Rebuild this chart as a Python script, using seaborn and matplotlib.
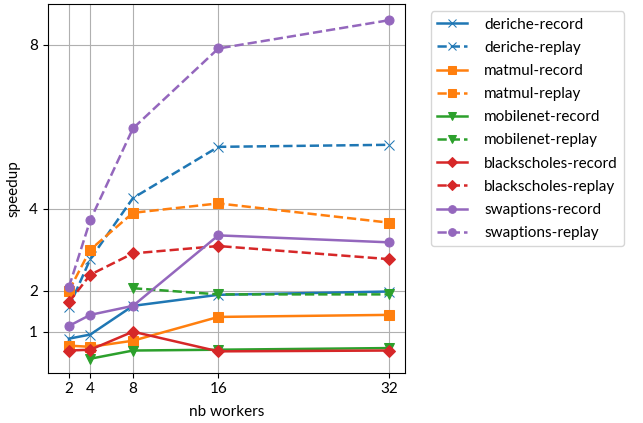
import numpy as np
import pandas as pd
import matplotlib
matplotlib.use("Agg")
import matplotlib.pyplot as plt
import seaborn as sns

# nb workers on x, speedup on y
workers = [2, 4, 8, 16, 32]
benchmarks = ['deriche', 'matmul', 'mobilenet', 'blackscholes', 'swaptions']
markers = {'deriche': 'x', 'matmul': 's', 'mobilenet': 'v', 'blackscholes': 'D', 'swaptions': 'o'}

deriche_record = [0.83, 0.93, 1.63, 1.90, 1.98]
deriche_replay = [1.60, 2.77, 4.26, 5.51, 5.56]
matmul_record = [0.66, 0.63, 0.78, 1.36, 1.41]
matmul_replay = [2.00, 3.00, 3.90, 4.13, 3.66]
mobilenet_record = [np.nan, 0.34, 0.54, 0.56, 0.60]
mobilenet_replay = [np.nan, np.nan, 2.06, 1.91, 1.91]
blackscholes_record = [0.54, 0.56, 1.00, 0.52, 0.54]
blackscholes_replay = [1.72, 2.39, 2.91, 3.09, 2.77]
swaptions_record = [1.14, 1.41, 1.63, 3.35, 3.18]
swaptions_replay = [2.09, 3.72, 5.96, 7.91, 8.60]

series = {
    'deriche': (deriche_record, deriche_replay),
    'matmul': (matmul_record, matmul_replay),
    'mobilenet': (mobilenet_record, mobilenet_replay),
    'blackscholes': (blackscholes_record, blackscholes_replay),
    'swaptions': (swaptions_record, swaptions_replay),
}

plt.rcParams['font.family'] = ['Lato', 'DejaVu Sans']
plt.rcParams['font.size'] = 11

fig = plt.figure(figsize=(6.43, 4.23), dpi=100)
ax = fig.add_axes([0.074, 0.119, 0.556, 0.872])
colors = sns.color_palette('tab10')

for i, name in enumerate(benchmarks):
    rec, rep = series[name]
    for vals, mode, ls in [(rec, 'record', '-'), (rep, 'replay', '--')]:
        df = pd.DataFrame({'workers': workers, 'speedup': vals}).dropna()
        sns.lineplot(x='workers', y='speedup', data=df, ax=ax, color=colors[i],
                     linestyle=ls, marker=markers[name], markersize=6.5,
                     markeredgecolor=colors[i], linewidth=1.8,
                     label=f'{name}-{mode}')

ax.set_xlim(0, 33.5)
ax.set_ylim(0, 9)
ax.set_xticks(workers)
ax.set_yticks([1, 2, 4, 8])
ax.set_xlabel('nb workers', labelpad=6)
ax.set_ylabel('speedup', labelpad=6)
ax.grid(True, color='#b0b0b0', linewidth=0.8)
ax.legend(loc='upper left', bbox_to_anchor=(1.05, 1), labelspacing=0.6,
          handletextpad=1.1, markerscale=0.85)

fig.savefig('out.png', dpi=100)
